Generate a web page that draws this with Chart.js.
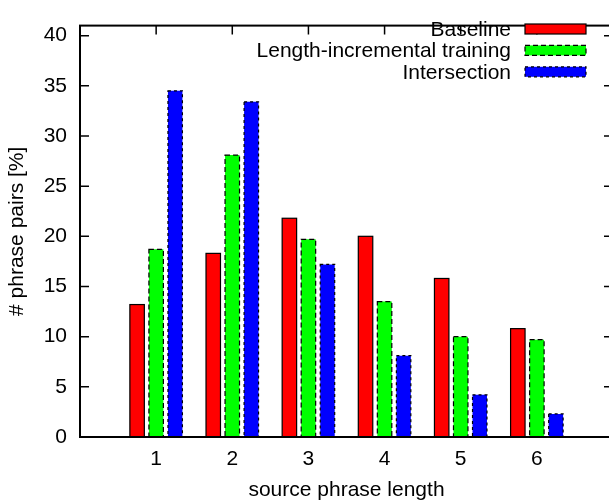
<!DOCTYPE html>
<html>
<head>
<meta charset="utf-8">
<script src="https://cdn.jsdelivr.net/npm/chart.js@4.4.1/dist/chart.umd.min.js"></script>
<style>
  html, body { margin: 0; padding: 0; background: #fff; overflow: hidden; }
  #wrap { width: 613px; height: 501px; }
</style>
</head>
<body>
<div id="wrap"><canvas id="chart"></canvas></div>
<script>
// ============================================================
// Data
// ============================================================
const PHRASE_LENGTHS = [1, 2, 3, 4, 5, 6];
const BASELINE       = [13.2, 18.3, 21.8, 20.0, 15.8, 10.8];
const LENGTH_INCR    = [18.7, 28.1, 19.7, 13.5, 10.0, 9.7];
const INTERSECTION   = [34.5, 33.4, 17.2, 8.1, 4.2, 2.3];
const Y_TICKS        = [0, 5, 10, 15, 20, 25, 30, 35, 40];
const SERIES_NAMES   = ['Baseline', 'Length-incremental training', 'Intersection'];

const FONT = "'Liberation Sans', Arial, Helvetica, sans-serif";
const FONT_SIZE = 21;
const TICK = 9;

Chart.defaults.font.family = FONT;
Chart.defaults.font.size = FONT_SIZE;
Chart.defaults.color = '#000';

const toPoints = vals => vals.map((v, i) => ({ x: PHRASE_LENGTHS[i], y: v }));

// ============================================================
// gnuplot-like frame, inward ticks, dashed outlines and legend
// ============================================================
const gnuplotLook = {
  id: 'gnuplotLook',
  beforeDatasetsDraw(chart) {
    const { ctx, chartArea: a, scales: { x, y } } = chart;
    ctx.save();
    ctx.strokeStyle = '#000';
    ctx.lineWidth = 1.5;
    ctx.beginPath();
    y.ticks.forEach(t => {
      const py = y.getPixelForValue(t.value);
      ctx.moveTo(a.left, py);  ctx.lineTo(a.left + TICK, py);
      ctx.moveTo(a.right, py); ctx.lineTo(a.right - TICK, py);
    });
    x.ticks.forEach(t => {
      const px = x.getPixelForValue(t.value);
      ctx.moveTo(px, a.top);    ctx.lineTo(px, a.top + TICK);
      ctx.moveTo(px, a.bottom); ctx.lineTo(px, a.bottom - TICK);
    });
    ctx.stroke();
    ctx.restore();
  },
  afterDatasetsDraw(chart) {
    const { ctx, chartArea: a } = chart;
    ctx.save();
    // bar outlines
    chart.data.datasets.forEach((ds, di) => {
      const meta = chart.getDatasetMeta(di);
      ctx.strokeStyle = '#000';
      ctx.lineWidth = 1.2;
      ctx.setLineDash(ds.outlineDash);
      meta.data.forEach(bar => {
        const { x, y, base, width } = bar.getProps(['x', 'y', 'base', 'width'], true);
        ctx.strokeRect(x - width / 2, y, width, base - y);
      });
    });
    ctx.setLineDash([]);
    // frame
    ctx.strokeStyle = '#000';
    ctx.lineWidth = 2;
    ctx.strokeRect(a.left, a.top, a.right - a.left, a.bottom - a.top);

    // legend (text right-aligned, swatch on the right)
    ctx.font = FONT_SIZE + 'px ' + FONT;
    ctx.textAlign = 'right';
    ctx.textBaseline = 'middle';
    chart.data.datasets.forEach((ds, di) => {
      const cy = 29 + di * 21.4;
      ctx.fillStyle = '#000';
      ctx.fillText(ds.label, 511, cy + 1);
      ctx.fillStyle = ds.backgroundColor;
      ctx.fillRect(525, cy - 5, 61, 10);
      ctx.strokeStyle = '#000';
      ctx.lineWidth = 1.2;
      ctx.setLineDash(ds.outlineDash);
      ctx.strokeRect(525, cy - 5, 61, 10);
    });
    ctx.restore();
  },
};

// ============================================================
// Chart
// ============================================================
new Chart(document.getElementById('chart').getContext('2d'), {
  type: 'bar',
  data: {
    datasets: [
      { label: SERIES_NAMES[0], data: toPoints(BASELINE),     backgroundColor: '#ff0000', outlineDash: [] },
      { label: SERIES_NAMES[1], data: toPoints(LENGTH_INCR),  backgroundColor: '#00ff00', outlineDash: [5, 3] },
      { label: SERIES_NAMES[2], data: toPoints(INTERSECTION), backgroundColor: '#0000ff', outlineDash: [3, 3] },
    ],
  },
  options: {
    responsive: true,
    maintainAspectRatio: false,
    animation: false,
    layout: { padding: { top: 9, right: 0, left: 0, bottom: 0 } },
    datasets: { bar: { borderWidth: 0, categoryPercentage: 0.75, barPercentage: 0.76 } },
    plugins: { legend: { display: false }, tooltip: { enabled: false } },
    scales: {
      x: {
        type: 'linear',
        min: 0,
        max: 7,
        offset: false,
        grid: { display: false, drawTicks: false },
        border: { display: false },
        afterBuildTicks: s => { s.ticks = PHRASE_LENGTHS.map(v => ({ value: v })); },
        afterFit: s => { s.height = 64; },
        ticks: { padding: 10, maxRotation: 0 },
        title: {
          display: true,
          text: 'source phrase length',
          font: { size: FONT_SIZE, lineHeight: 1 },
          padding: { top: 0, bottom: 0 },
        },
      },
      y: {
        min: 0,
        max: 41,
        grid: { display: false, drawTicks: false },
        border: { display: false },
        afterBuildTicks: s => { s.ticks = Y_TICKS.map(v => ({ value: v })); },
        afterFit: s => { s.width = 80; },
        ticks: { padding: 13 },
        title: {
          display: true,
          text: '# phrase pairs [%]',
          font: { size: FONT_SIZE, lineHeight: 1 },
          padding: { top: 7, bottom: 0 },
        },
      },
    },
  },
  plugins: [gnuplotLook],
});
</script>
</body>
</html>
